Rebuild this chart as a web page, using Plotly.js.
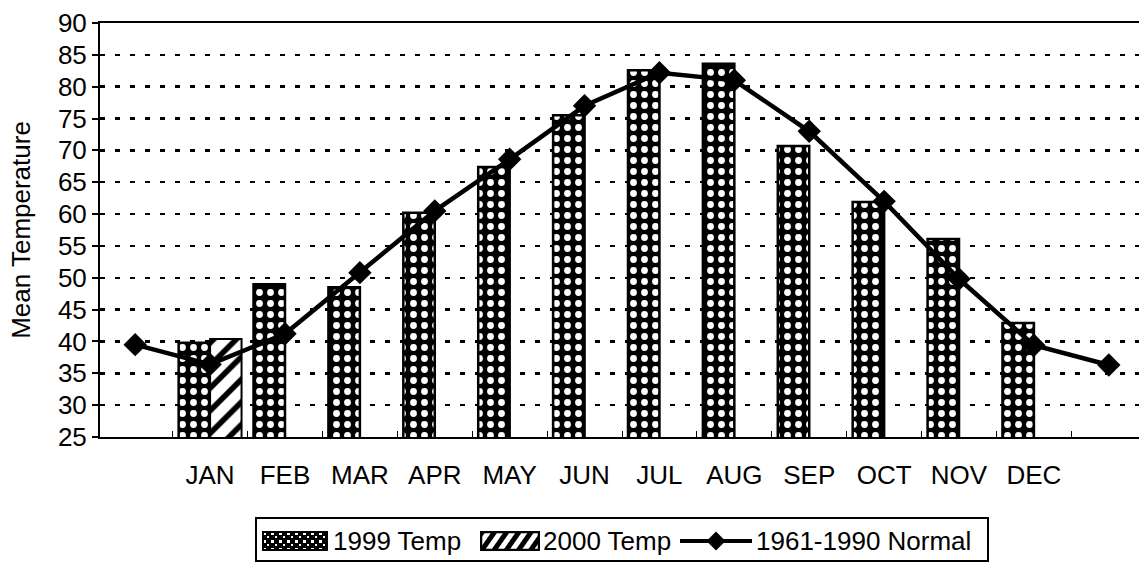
<!DOCTYPE html>
<html>
<head>
<meta charset="utf-8">
<script src="https://cdn.plot.ly/plotly-3.0.1.min.js"></script>
<style>html,body{margin:0;padding:0;background:#fff;overflow:hidden;}#wrap{width:1139px;height:562px;overflow:hidden;}#chart{width:1150px;height:562px;}</style>
</head>
<body>
<div id="wrap"><div id="chart"></div></div>
<script>
// Category positions: 0 = lead-in point, 1..12 = months, 13 = tail point
const months = ["JAN","FEB","MAR","APR","MAY","JUN","JUL","AUG","SEP","OCT","NOV","DEC"];
const monthPos = [1,2,3,4,5,6,7,8,9,10,11,12];
const temp1999 = [39.8,49.0,48.5,60.2,67.4,75.5,82.6,83.6,70.7,61.9,56.1,42.9];
const temp2000Pos = [1];
const temp2000 = [40.4];
const normalPos = [0,1,2,3,4,5,6,7,8,9,10,11,12,13];
const normal = [39.5,36.4,41.2,50.8,60.5,68.6,77.0,82.2,81.0,73.0,62.0,49.8,39.4,36.3];
const yTicks = [25,30,35,40,45,50,55,60,65,70,75,80,85,90];
const seriesNames = ["1999 Temp", "2000 Temp", "1961-1990 Normal"];

const font = "Liberation Sans, Arial, sans-serif";

// plot-area geometry (pixels) for placing the hand-built legend
const L = 100, T = 23, PW = 1050, PH = 414;
const px2x = px => (px - L) / PW;
const py2y = py => (T + PH - py) / PH;

const svgUri = s => "data:image/svg+xml;charset=utf-8," + encodeURIComponent(s);
const sym1999 = svgUri("<svg xmlns='http://www.w3.org/2000/svg' width='66' height='20'><defs><pattern id='p' width='8' height='8' patternUnits='userSpaceOnUse'><rect width='8' height='8' fill='black'/><rect x='1' y='1' width='3' height='3' fill='white'/><rect x='5' y='5' width='2' height='2' fill='white'/></pattern></defs><rect x='1' y='1' width='64' height='18' fill='url(#p)' stroke='black' stroke-width='2'/></svg>");
const sym2000 = svgUri("<svg xmlns='http://www.w3.org/2000/svg' width='60' height='20'><defs><pattern id='h' width='10' height='10' patternUnits='userSpaceOnUse' patternTransform='rotate(35)'><rect width='10' height='10' fill='white'/><rect width='5' height='10' fill='black'/></pattern></defs><rect x='1' y='1' width='58' height='18' fill='url(#h)' stroke='black' stroke-width='2.5'/></svg>");
const symLine = svgUri("<svg xmlns='http://www.w3.org/2000/svg' width='72' height='20'><line x1='0' y1='10' x2='72' y2='10' stroke='black' stroke-width='4'/><path d='M36,0.5 L45.5,10 L36,19.5 L26.5,10 Z' fill='black'/></svg>");

const data = [
  {
    type: "bar", name: seriesNames[0], x: monthPos, y: temp1999,
    marker: {color: "#000", line: {color: "#000", width: 2.5},
      pattern: {shape: ".", fgcolor: "#fff", bgcolor: "#000", fgopacity: 1, size: 11, solidity: 0.3, fillmode: "replace"}},
    hoverinfo: "skip", showlegend: false
  },
  {
    type: "bar", name: seriesNames[1], x: temp2000Pos, y: temp2000,
    marker: {color: "#fff", line: {color: "#000", width: 2},
      pattern: {shape: "/", fgcolor: "#000", bgcolor: "#fff", fgopacity: 1, size: 16, solidity: 0.35, fillmode: "replace"}},
    hoverinfo: "skip", showlegend: false
  },
  {
    type: "scatter", mode: "lines+markers", name: seriesNames[2],
    x: normalPos, y: normal,
    line: {color: "#000", width: 4.5},
    marker: {symbol: "diamond", size: 18, color: "#000"},
    hoverinfo: "skip", showlegend: false
  }
];

const legendImages = [
  {source: sym1999, x: px2x(262), y: py2y(531), sizex: 66 / PW, sizey: 20 / PH},
  {source: sym2000, x: px2x(480), y: py2y(531), sizex: 60 / PW, sizey: 20 / PH},
  {source: symLine, x: px2x(680), y: py2y(531), sizex: 72 / PW, sizey: 20 / PH}
].map(o => Object.assign({xref: "paper", yref: "paper", xanchor: "left", yanchor: "top", sizing: "stretch", layer: "above"}, o));

const legendTextX = [331, 541, 754];
const legendAnnotations = seriesNames.map((n, i) => ({
  text: n, xref: "paper", yref: "paper", x: px2x(legendTextX[i]), y: py2y(541),
  xanchor: "left", yanchor: "middle", showarrow: false,
  font: {family: font, size: 26, color: "#000"}
}));

const layout = {
  width: 1150, height: 562,
  margin: {l: L, r: 0, t: T, b: 562 - T - PH},
  paper_bgcolor: "#fff", plot_bgcolor: "#fff",
  font: {family: font, size: 26, color: "#000"},
  showlegend: false,
  barmode: "group", bargap: 0.16, bargroupgap: 0,
  xaxis: {
    range: [-0.47, 13.55],
    tickmode: "array", tickvals: monthPos, ticktext: months,
    ticks: "", showgrid: false, zeroline: false,
    showline: true, linecolor: "#000", linewidth: 2, mirror: true,
    tickfont: {family: font, size: 26, color: "#000"},
    ticklabelstandoff: 14,
    minor: {tick0: 0.5, dtick: 1, ticks: "inside", ticklen: 6, tickwidth: 1, tickcolor: "#000", showgrid: false}
  },
  yaxis: {
    range: [25, 90], tickmode: "array", tickvals: yTicks,
    ticks: "outside", ticklen: 6, tickwidth: 2, tickcolor: "#000",
    showline: true, linecolor: "#000", linewidth: 2,
    showgrid: true, gridcolor: "#000", gridwidth: 2.5, griddash: "5px,10px",
    zeroline: false,
    tickfont: {family: font, size: 26, color: "#000"},
    title: {text: "Mean Temperature", font: {family: font, size: 26, color: "#000"}, standoff: 20}
  },
  images: legendImages,
  annotations: legendAnnotations,
  shapes: [{
    type: "rect", xref: "paper", yref: "paper",
    x0: px2x(256), x1: px2x(988), y0: py2y(518), y1: py2y(561),
    line: {color: "#000", width: 2}, fillcolor: "rgba(0,0,0,0)", layer: "above"
  }]
};

Plotly.newPlot("chart", data, layout, {staticPlot: true, displayModeBar: false});
</script>
</body>
</html>
